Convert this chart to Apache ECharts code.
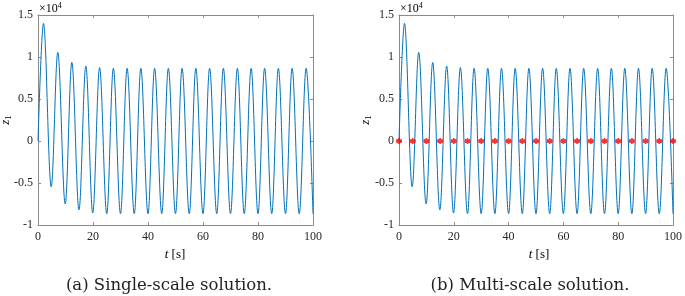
<!DOCTYPE html>
<html>
<head>
<meta charset="utf-8">
<script src="https://cdn.jsdelivr.net/npm/echarts@6/dist/echarts.min.js"></script>
<style>
html,body{margin:0;padding:0;background:#fff;}
#c{width:685px;height:296px;}
</style>
</head>
<body>
<div id="c"></div>
<script>
// values in units of 1e4 (axis shows x10^4)
const peakT = [2.0, 7.2, 12.3, 17.4, 22.4, 27.4, 32.4, 37.4, 42.4, 47.4, 52.4, 57.4, 62.4, 67.4, 72.5, 77.5, 82.4, 87.4, 92.4, 97.5];
const peakV = [1.40, 1.055, 0.935, 0.893, 0.873, 0.866, 0.866, 0.866, 0.866, 0.866, 0.866, 0.866, 0.866, 0.866, 0.866, 0.866, 0.866, 0.866, 0.866, 0.866];
const troughT = [4.8, 9.9, 14.9, 19.9, 25.0, 30.0, 35.0, 40.0, 45.0, 50.0, 55.0, 60.0, 65.0, 70.0, 75.0, 80.0, 85.0, 90.0, 95.0, 100.0];
const troughV = [-0.545, -0.75, -0.82, -0.857, -0.866, -0.866, -0.866, -0.866, -0.866, -0.866, -0.866, -0.866, -0.866, -0.866, -0.866, -0.866, -0.866, -0.866, -0.866, -0.866];
const startPoint = [0, 0];
const markerT = [0, 5, 10, 15, 20, 25, 30, 35, 40, 45, 50, 55, 60, 65, 70, 75, 80, 85, 90, 95, 100];
const markerV = [0, 0, 0, 0, 0, 0, 0, 0, 0, 0, 0, 0, 0, 0, 0, 0, 0, 0, 0, 0, 0];
const yTickLabels = {'-1': '-1', '-0.5': '-0.5', '0': '0', '0.5': '0.5', '1': '1', '1.5': '1.5'};
const captions = ['(a) Single-scale solution.', '(b) Multi-scale solution.'];

const curve = [startPoint];
for (let i = 0; i < peakT.length; i++) {
  curve.push([peakT[i], peakV[i]]);
  curve.push([troughT[i], troughV[i]]);
}
const markers = markerT.map((t, i) => [t, markerV[i]]);

const axisColor = '#8a8a8a';
const labelColor = '#262626';
const tickFont = 'Liberation Serif';

function xAx(grid, pos) {
  return {
    type: 'value', gridIndex: grid, position: pos, min: 0, max: 100, interval: 20,
    axisLine: {show: true, onZero: false, lineStyle: {color: axisColor, width: 1}},
    axisTick: {show: true, inside: true, length: 3, lineStyle: {color: axisColor}},
    axisLabel: {show: pos === 'bottom', color: labelColor, fontFamily: tickFont, fontSize: 12, margin: 6},
    splitLine: {show: false}
  };
}
function yAx(grid, pos) {
  return {
    type: 'value', gridIndex: grid, position: pos, min: -1, max: 1.5, interval: 0.5,
    axisLine: {show: true, onZero: false, lineStyle: {color: axisColor, width: 1}},
    axisTick: {show: true, inside: true, length: 3, lineStyle: {color: axisColor}},
    axisLabel: {show: pos === 'left', color: labelColor, fontFamily: tickFont, fontSize: 12, margin: 5,
      formatter: v => { const k = String(Math.round(v * 10) / 10); return yTickLabels[k] !== undefined ? yTickLabels[k] : k; }},
    splitLine: {show: false}
  };
}

const chart = echarts.init(document.getElementById('c'), null, {renderer: 'canvas'});
const richZ = {i: {fontFamily: 'Liberation Serif', fontStyle: 'italic', fontSize: 13, color: labelColor},
               s: {fontFamily: 'Liberation Serif', fontSize: 9, color: labelColor, verticalAlign: 'bottom', padding: [6, 0, 0, 0]}};
const richT = {i: {fontFamily: 'Liberation Serif', fontStyle: 'italic', fontSize: 13, color: labelColor},
               n: {fontFamily: 'Liberation Serif', fontSize: 13, color: labelColor}};
const richE = {n: {fontFamily: 'Liberation Serif', fontSize: 12, color: labelColor},
               s: {fontFamily: 'Liberation Serif', fontSize: 8, color: labelColor, padding: [0, 0, 6, 0]}};

const g = [];
g.push({type: 'text', left: 39, top: 2, style: {text: '{n|×10}{s|4}', rich: richE}});
g.push({type: 'text', left: 400, top: 2, style: {text: '{n|×10}{s|4}', rich: richE}});
g.push({type: 'text', x: 6, y: 120, rotation: Math.PI / 2, style: {text: '{i|z}{s|1}', rich: richZ, align: 'center', verticalAlign: 'middle'}});
g.push({type: 'text', x: 366, y: 120, rotation: Math.PI / 2, style: {text: '{i|z}{s|1}', rich: richZ, align: 'center', verticalAlign: 'middle'}});
g.push({type: 'text', x: 175, y: 255, style: {text: '{i|t} {n|[s]}', rich: richT, align: 'center', verticalAlign: 'middle'}});
g.push({type: 'text', x: 539, y: 255, style: {text: '{i|t} {n|[s]}', rich: richT, align: 'center', verticalAlign: 'middle'}});
g.push({type: 'text', x: 169, y: 286, style: {text: captions[0], fontFamily: 'DejaVu Serif', fontSize: 16.5, fill: '#222', align: 'center', verticalAlign: 'middle'}});
g.push({type: 'text', x: 530, y: 286, style: {text: captions[1], fontFamily: 'DejaVu Serif', fontSize: 16.5, fill: '#222', align: 'center', verticalAlign: 'middle'}});

const option = {
  animation: false,
  backgroundColor: '#fff',
  grid: [
    {left: 38, top: 15, width: 275, height: 210, containLabel: false},
    {left: 399, top: 15, width: 277, height: 210, containLabel: false}
  ],
  xAxis: [xAx(0, 'bottom'), xAx(0, 'top'), xAx(1, 'bottom'), xAx(1, 'top')],
  yAxis: [yAx(0, 'left'), yAx(0, 'right'), yAx(1, 'left'), yAx(1, 'right')],
  series: [
    {type: 'line', xAxisIndex: 0, yAxisIndex: 0, data: curve, showSymbol: false, smooth: 0.36, smoothMonotone: 'x',
      lineStyle: {color: '#0072BD', width: 1}, silent: true},
    {type: 'line', xAxisIndex: 2, yAxisIndex: 2, data: curve, showSymbol: false, smooth: 0.36, smoothMonotone: 'x',
      lineStyle: {color: '#0072BD', width: 1}, silent: true},
    {type: 'scatter', xAxisIndex: 2, yAxisIndex: 2, data: markers, z: 5,
      symbol: 'path://M0,-5L0,5M-4.33,-2.5L4.33,2.5M-4.33,2.5L4.33,-2.5M-5,0L5,0',
      symbolSize: 6, itemStyle: {color: '#ff0000', borderColor: '#ff0000', borderWidth: 1.6}, silent: true}
  ],
  graphic: g
};
chart.setOption(option);
</script>
</body>
</html>
